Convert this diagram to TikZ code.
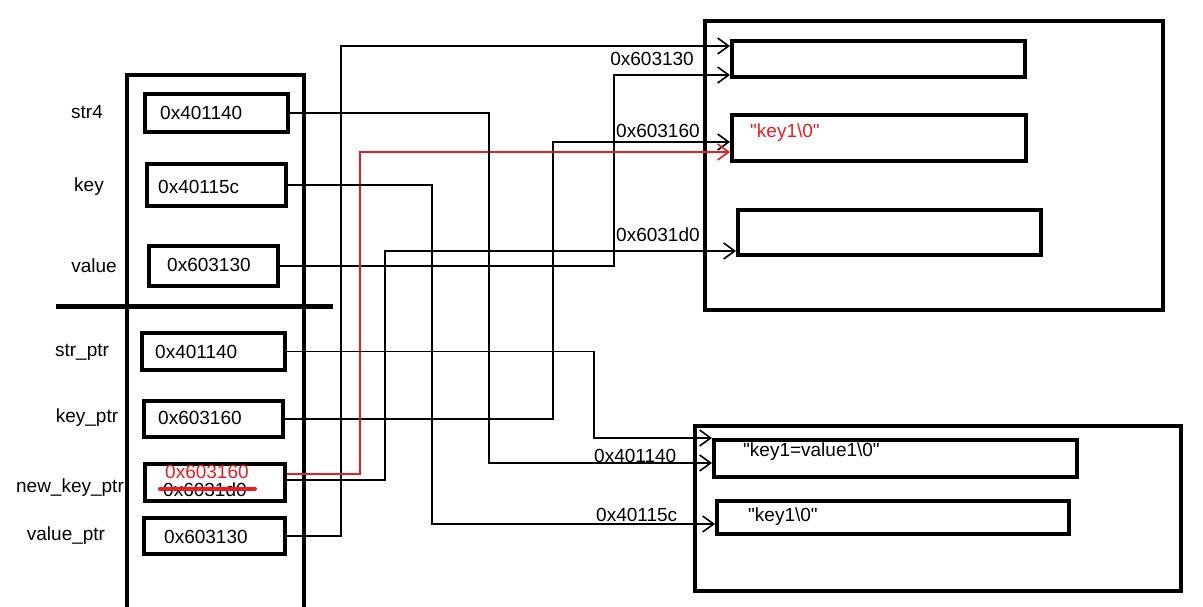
\documentclass[tikz,border=0pt]{standalone}
\usepackage{fontspec}
\setmainfont{Liberation Sans}[Ligatures=TeXOff]
\usetikzlibrary{arrows.meta}
\definecolor{pred}{RGB}{237,28,36}
\newcommand{\dq}{\symbol{34}}
\tikzset{
  cell/.style={draw, line width=4pt, inner sep=0pt},
  frame/.style={draw, line width=4pt, inner sep=0pt},
  txt/.style={inner sep=0pt, font=\fontsize{19}{22}\selectfont},
  conn/.style={line width=1.6pt, -{Straight Barb[length=11pt,width=16pt,line width=1.6pt]}},
  redconn/.style={conn, draw=pred},
}
\begin{document}
\begin{tikzpicture}[x=1pt,y=-1pt]
\useasboundingbox (0,0) rectangle (1203,607);
% stack column
\draw[line width=4pt] (127,607) -- (127,75.5) -- (304,75.5) -- (304,607);
\draw[line width=4.5pt] (56,306.5) -- (333,306.5);
% left cells
\node[cell, minimum width=143, minimum height=38] (str4box) at (216.5,113) {};
\node[cell, minimum width=139, minimum height=42] (keybox) at (216.5,185) {};
\node[cell, minimum width=129, minimum height=40] (valuebox) at (213.5,266) {};
\node[cell, minimum width=143, minimum height=37] (strptrbox) at (213.5,351.5) {};
\node[cell, minimum width=139, minimum height=36] (keyptrbox) at (213.5,419) {};
\node[cell, minimum width=140, minimum height=37] (newkeybox) at (215,482.5) {};
\node[cell, minimum width=141, minimum height=36] (valptrbox) at (214.5,536) {};
% cell contents
\node[txt, anchor=west] (t1) at (160,113) {0x401140};
\node[txt, anchor=west] (t2) at (158,187) {0x40115c};
\node[txt, anchor=west] (t3) at (167,265) {0x603130};
\node[txt, anchor=west] (t4) at (155,352) {0x401140};
\node[txt, anchor=west] (t5) at (158,418) {0x603160};
\node[txt, anchor=west, text=pred] (t6) at (165,472) {0x603160};
\node[txt, anchor=west] (t7) at (163,490) {0x6031d0};
\draw[pred, line width=4pt, line cap=round] (160,489) -- (255,489);
\node[txt, anchor=west] (t8) at (164,537) {0x603130};
% variable names
\node[txt] (n1) at (87,112) {str4};
\node[txt] (n2) at (89,187) {key};
\node[txt] (n3) at (94,266) {value};
\node[txt] (n4) at (82,352) {str\_ptr};
\node[txt] (n5) at (87,418) {key\_ptr};
\node[txt] (n6) at (70,488) {new\_key\_ptr};
\node[txt] (n7) at (66,536) {value\_ptr};
% right frames
\node[frame, minimum width=458, minimum height=289] (topframe) at (934,165.5) {};
\node[frame, minimum width=486, minimum height=165] (botframe) at (938,508.5) {};
\node[cell, minimum width=293, minimum height=36] (A) at (878.5,59) {};
\node[cell, minimum width=294, minimum height=46] (B) at (879,138) {};
\node[cell, minimum width=303, minimum height=45] (C) at (889.5,232.5) {};
\node[cell, minimum width=363, minimum height=37] (D) at (895.5,458.5) {};
\node[cell, minimum width=352, minimum height=33] (E) at (893,517.5) {};
\node[txt, anchor=west, text=pred] (tb) at (750,133) {\dq key1\textbackslash 0\dq};
\node[txt, anchor=west] (td) at (743,452) {\dq key1=value1\textbackslash 0\dq};
\node[txt, anchor=west] (te) at (748,517) {\dq key1\textbackslash 0\dq};
% connectors
\draw[conn] (valptrbox.east) -| (341,46) -- (A.west |- 0,46);
\draw[conn] (valuebox.east) -| (614,75) -- (A.west |- 0,75);
\draw[conn] (keyptrbox.east) -| (553,142) -- (B.west |- 0,142);
\draw[redconn] (newkeybox.east |- 0,474) -| (360,152) -- (B.west |- 0,152);
\draw[conn] (newkeybox.east |- 0,480) -| (385,251) -- (C.west |- 0,251);
\draw[conn] (str4box.east) -| (489,463) -- (D.west |- 0,463);
\draw[conn] (strptrbox.east) -| (594,438) -- (D.west |- 0,438);
\draw[conn] (keybox.east) -| (432,524) -- (E.west |- 0,524);
% connector labels
\node[txt, anchor=east] (l1) at (694,59) {0x603130};
\node[txt, anchor=west] (l2) at (616,131) {0x603160};
\node[txt, anchor=west] (l3) at (616,235) {0x6031d0};
\node[txt, anchor=west] (l4) at (594,456) {0x401140};
\node[txt, anchor=west] (l5) at (596,515) {0x40115c};
\end{tikzpicture}
\end{document}
